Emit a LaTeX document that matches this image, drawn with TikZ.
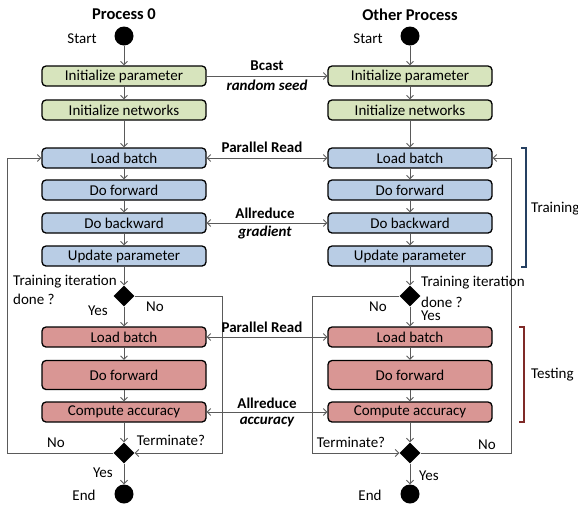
\documentclass[tikz,border=0pt]{standalone}
\usepackage{fontspec}
\setmainfont{Carlito}
\usepackage{xcolor}
\usepackage{tikz}
\usetikzlibrary{arrows.meta}
\usetikzlibrary{shapes.geometric}
\definecolor{initgreen}{HTML}{D7E4BD}
\definecolor{trainblue}{HTML}{B9CDE5}
\definecolor{testred}{HTML}{D99694}
\definecolor{trainbrace}{HTML}{254061}
\definecolor{testbrace}{HTML}{7F2A28}
\definecolor{linegray}{HTML}{5A5A5A}
\newcommand{\lblfont}{\fontsize{15}{17}\selectfont}
\newcommand{\ttlfont}{\fontsize{16.5}{19}\selectfont\bfseries}

\begin{document}
\begin{tikzpicture}[x=1pt,y=-1pt]
\tikzstyle{every node}=[font=\lblfont, inner sep=0pt]
\tikzstyle{stepbox}=[draw=black, line width=1.3pt, rounded corners=4pt, minimum width=164pt, minimum height=20pt]
\tikzstyle{initbox}=[stepbox, fill=initgreen]
\tikzstyle{trainbox}=[stepbox, fill=trainblue]
\tikzstyle{testbox}=[stepbox, fill=testred]
\tikzstyle{terminal}=[circle, fill=black, minimum size=19pt]
\tikzstyle{decide}=[diamond, fill=black, minimum width=21pt, minimum height=21pt]
\tikzstyle{flow}=[draw=linegray, line width=0.8pt, -{Straight Barb[length=3.5pt,width=7pt]}]
\tikzstyle{comm}=[draw=linegray, line width=0.8pt, {Straight Barb[length=3.5pt,width=7pt]}-{Straight Barb[length=3.5pt,width=7pt]}]
\useasboundingbox (0,0) rectangle (578,504);
% titles
\node[font=\ttlfont] (ttlA) at (124,14) {Process 0};
\node[font=\ttlfont] (ttlB) at (410,15) {Other Process};
% process 0
\node[terminal] (stA) at (124,36) {};
\node (stlA) at (82,39) {Start};
\node[initbox] (ipA) at (124,76) {Initialize parameter};
\node[initbox] (inA) at (124,110) {Initialize networks};
\node[trainbox] (lbA) at (124,158) {Load batch};
\node[trainbox] (fwA) at (124,190) {Do forward};
\node[trainbox] (bwA) at (124,223) {Do backward};
\node[trainbox] (upA) at (124,256) {Update parameter};
\node[decide] (dA) at (124,296) {};
\node[testbox] (ltA) at (124,337) {Load batch};
\node[testbox, minimum height=29pt] (tfA) at (124,375) {Do forward};
\node[testbox] (caA) at (124,412) {Compute accuracy};
\node[decide] (dB) at (124,453) {};
\node[terminal] (enA) at (124,494) {};
% other process
\node[terminal] (stB) at (410,36) {};
\node (stlB) at (368,39) {Start};
\node[initbox] (ipB) at (410,76) {Initialize parameter};
\node[initbox] (inB) at (410,110) {Initialize networks};
\node[trainbox] (lbB) at (410,158) {Load batch};
\node[trainbox] (fwB) at (410,190) {Do forward};
\node[trainbox] (bwB) at (410,223) {Do backward};
\node[trainbox] (upB) at (410,256) {Update parameter};
\node[decide] (dC) at (410,296) {};
\node[testbox] (ltB) at (410,337) {Load batch};
\node[testbox, minimum height=29pt] (tfB) at (410,375) {Do forward};
\node[testbox] (caB) at (410,412) {Compute accuracy};
\node[decide] (dD) at (410,453) {};
\node[terminal] (enB) at (410,494) {};
% flow
\draw[flow] (stA) -- (ipA);
\draw[flow] (ipA) -- (inA);
\draw[flow] (inA) -- (lbA);
\draw[flow] (lbA) -- (fwA);
\draw[flow] (fwA) -- (bwA);
\draw[flow] (bwA) -- (upA);
\draw[flow] (upA) -- (dA.north);
\draw[flow] (dA) -- (ltA);
\draw[flow] (ltA) -- (tfA);
\draw[flow] (tfA) -- (caA);
\draw[flow] (caA) -- (dB.north);
\draw[flow] (dB) -- (enA);
\draw[flow] (stB) -- (ipB);
\draw[flow] (ipB) -- (inB);
\draw[flow] (inB) -- (lbB);
\draw[flow] (lbB) -- (fwB);
\draw[flow] (fwB) -- (bwB);
\draw[flow] (bwB) -- (upB);
\draw[flow] (upB) -- (dC.north);
\draw[flow] (dC) -- (ltB);
\draw[flow] (ltB) -- (tfB);
\draw[flow] (tfB) -- (caB);
\draw[flow] (caB) -- (dD.north);
\draw[flow] (dD) -- (enB);
% loops
\draw[flow] (dA.east) -- ++(88,0) |- (dB.east);
\draw[flow] (dB.west) -- ++(-106,0) |- (lbA.west);
\draw[flow] (dC.west) -- ++(-87,0) |- (dD.west);
\draw[flow] (dD.east) -- ++(91,0) |- (lbB.east);
% communication
\draw[flow] (ipA) -- (ipB);
\draw[comm] (lbA) -- (lbB);
\draw[comm] (bwA) -- (bwB);
\draw[comm] (ltA) -- (ltB);
\draw[comm] (caA) -- (caB);
\node[font=\lblfont\bfseries] (bcl) at (267,66) {Bcast};
\node[font=\lblfont\bfseries\itshape] (bcd) at (267,85) {random seed};
\node[font=\lblfont\bfseries] (prA) at (262,147) {Parallel Read};
\node[font=\lblfont\bfseries] (arA) at (265,213) {Allreduce};
\node[font=\lblfont\bfseries\itshape] (ard) at (265,232) {gradient};
\node[font=\lblfont\bfseries] (prB) at (262,327) {Parallel Read};
\node[font=\lblfont\bfseries] (arB) at (267,403) {Allreduce};
\node[font=\lblfont\bfseries\itshape] (arc) at (267,422) {accuracy};
% decision labels
\node[anchor=west] (tiA) at (13,282) {Training iteration};
\node[anchor=west] (dnA) at (13,299) {done ?};
\node (ysA) at (98,311) {Yes};
\node (noA) at (155,307) {No};
\node[anchor=west] (tiB) at (421,283) {Training iteration};
\node[anchor=west] (dnB) at (421,302) {done ?};
\node[anchor=west] (ysB) at (421,316) {Yes};
\node (noB) at (378,307) {No};
\node (noC) at (56,443) {No};
\node (tmA) at (171,440) {Terminate?};
\node (ysC) at (103,473) {Yes};
\node (edA) at (84,495) {End};
\node (tmB) at (351,442) {Terminate?};
\node (noD) at (487,445) {No};
\node (ysD) at (429,476) {Yes};
\node (edB) at (370,495) {End};
% phases
\draw[trainbrace, line width=1.2pt] (521,148) -- (526,148) -- (526,267) -- (521,267);
\node[anchor=west] (trn) at (531,209) {Training};
\draw[testbrace, line width=1.2pt] (519,327) -- (524,327) -- (524,422) -- (519,422);
\node[anchor=west] (tst) at (531,375) {Testing};
\end{tikzpicture}
\end{document}
